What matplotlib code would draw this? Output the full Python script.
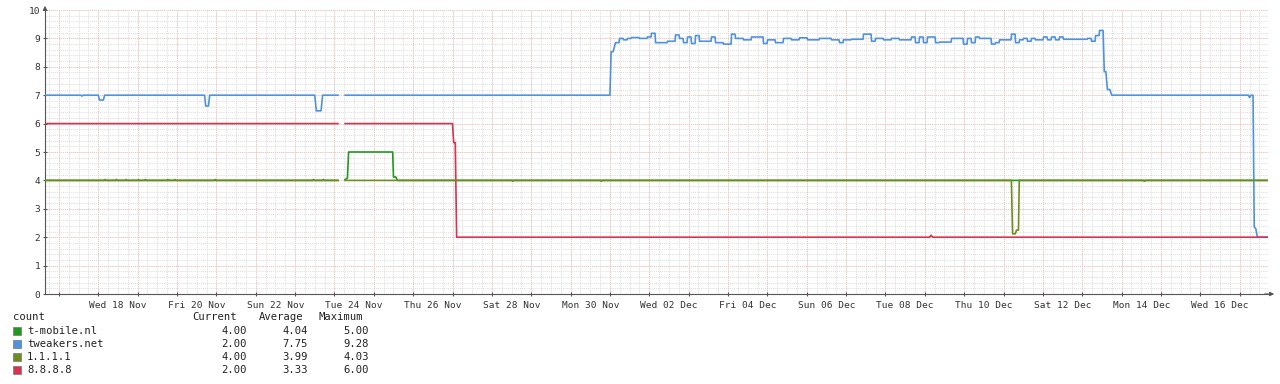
import numpy as np
import pandas as pd
import matplotlib
matplotlib.use("Agg")
import matplotlib.pyplot as plt
import matplotlib.dates as mdates
from matplotlib.patches import Rectangle

# ---------------- data ----------------
origin = pd.Timestamp("2020-11-18")
x_start_day, x_end_day = -1.354, 29.72

# tweakers.net (days from origin, values); NaN marks data gap
blue_t = [-1.354, -0.44, -0.414, -0.39, 0.0, 0.03, 0.06, 0.13, 0.16, 2.70, 2.73, 2.80, 2.83,
          5.50, 5.54, 5.66, 5.70, 6.09, 6.18, 6.27, 13.0, 13.03, 13.08]
blue_v = [7.0, 7.0, 6.97, 7.0, 7.0, 6.83, 6.83, 6.83, 7.0, 7.0, 6.62, 6.62, 7.0,
          7.0, 6.45, 6.45, 7.0, 7.0, np.nan, 7.0, 7.0, 8.53, 8.53]
blue_noise = [8.85, 9.0, 8.95, 9.0, 9.03, 9.03, 9.0, 9.0, 9.05, 9.18, 8.85, 8.85, 8.85, 8.9,
              8.9, 9.12, 9.0, 8.85, 9.05, 8.82, 9.1, 8.9, 8.9, 8.9, 9.05, 8.85, 8.85, 8.8,
              8.8, 9.15, 9.0, 9.0, 8.95, 8.95, 9.05, 9.05, 9.05, 8.82, 8.95, 8.95, 8.85,
              8.85, 9.0, 9.0, 8.95, 8.95, 9.02, 9.02, 8.95, 8.95, 8.95, 9.0, 9.0, 9.0, 8.95,
              8.95, 8.85, 8.95, 8.95, 8.97, 8.97, 8.97, 9.15, 9.15, 8.9, 9.0, 9.0, 8.95,
              8.95, 9.0, 9.0, 8.95, 8.95, 8.95, 9.05, 8.85, 9.05, 8.85, 9.05,
              9.05, 8.85, 8.87, 8.87, 8.87, 9.0, 9.0, 9.0, 8.8, 9.0, 8.85, 9.05, 9.0, 9.0,
              9.0, 8.8, 8.85, 8.95, 8.95, 8.95, 9.15, 8.85, 8.95, 9.0, 8.9, 9.0, 8.95,
              8.95, 9.05, 8.95, 9.05, 8.95, 9.05, 8.97, 8.97, 8.97, 8.97, 8.97, 8.97,
              9.0, 8.9, 9.1, 9.28]
blue_noise_span = (13.13, 25.53)
blue_tail_t = [25.56, 25.60, 25.64, 25.70, 25.75, 29.22, 29.25, 29.29, 29.34, 29.37, 29.41, 29.45, 29.72]
blue_tail_v = [7.83, 7.83, 7.2, 7.2, 7.0, 7.0, 6.92, 7.0, 7.0, 2.36, 2.3, 2.0, 2.0]

# 8.8.8.8
red_t = [-1.354, 6.09, 6.18, 6.27, 9.0, 9.03, 9.07, 9.105, 21.12, 21.16, 21.2, 29.72]
red_v = [6.0, 6.0, np.nan, 6.0, 6.0, 5.33, 5.33, 2.0, 2.0, 2.07, 2.0, 2.0]

# t-mobile.nl
green_t = [-1.354, 0.15, 0.17, 0.19, 0.44, 0.46, 0.48, 0.68, 0.70, 0.72, 1.0, 1.02, 1.04,
           1.18, 1.20, 1.22, 1.75, 1.77, 1.79, 1.93, 1.95, 1.97, 2.95, 2.97, 2.99,
           5.45, 5.47, 5.49, 5.70, 5.72, 5.74, 6.09, 6.18, 6.27, 6.33, 6.36, 6.40,
           7.48, 7.50, 7.56, 7.60, 29.72]
green_v = [4.0, 4.0, 4.03, 4.0, 4.0, 4.03, 4.0, 4.0, 4.03, 4.0, 4.0, 4.03, 4.0,
           4.0, 4.03, 4.0, 4.0, 4.03, 4.0, 4.0, 4.03, 4.0, 4.0, 4.03, 4.0,
           4.0, 4.03, 4.0, 4.0, 4.03, 4.0, 4.0, np.nan, 4.03, 4.08, 5.0, 5.0,
           5.0, 4.12, 4.12, 4.0, 4.0]

# 1.1.1.1
olive_t = [-1.354, 6.09, 6.18, 6.27, 10.5, 10.53, 10.56, 12.75, 12.78, 12.81, 23.20, 23.23,
           23.30, 23.33, 23.38, 23.40, 26.55, 26.58, 26.61, 29.72]
olive_v = [4.0, 4.0, np.nan, 4.0, 4.0, 3.97, 4.0, 4.0, 3.97, 4.0, 4.0, 2.12,
           2.12, 2.25, 2.25, 4.0, 4.0, 3.97, 4.0, 4.0]

series_names = ["t-mobile.nl", "tweakers.net", "1.1.1.1", "8.8.8.8"]
series_colors = ["#1f9a1f", "#4f93dc", "#6f8d1c", "#d8324f"]
cur_vals = ["4.00", "2.00", "4.00", "2.00"]
avg_vals = ["4.04", "7.75", "3.99", "3.33"]
max_vals = ["5.00", "9.28", "4.03", "6.00"]
label_days = list(range(0, 29, 2))  # Wed 18 Nov ... Wed 16 Dec

# ---------------- helpers ----------------
def to_dates(days):
    return mdates.date2num(origin) + np.asarray(days, dtype=float)

mono = "DejaVu Sans Mono"
W, H = 1280, 384
fig = plt.figure(figsize=(W / 100, H / 100), dpi=100)
fig.patch.set_facecolor("white")
left_px, right_px, top_px, bot_px = 45, 1268, 10, 294
ax = fig.add_axes([left_px / W, 1 - bot_px / H, (right_px - left_px) / W, (bot_px - top_px) / H])

x0, x1 = to_dates(x_start_day), to_dates(x_end_day)
ax.set_xlim(x0, x1)
ax.set_ylim(0, 10)

# grid
grid_minor = "#dedede"
grid_major = "#f2c4c4"
for yv in np.arange(0, 10.01, 0.2):
    ax.axhline(yv, color=grid_minor, lw=0.7, ls=(0, (1, 1)), zorder=0)
first_q = np.ceil(x_start_day * 4) / 4
for d in np.arange(first_q, x_end_day, 0.25):
    ax.axvline(to_dates(d), color=grid_minor, lw=0.7, ls=(0, (1, 1)), zorder=0)
for yv in range(0, 11):
    ax.axhline(yv, color=grid_major, lw=0.7, ls=(0, (1, 1)), zorder=0.5)
day_ticks = np.arange(np.ceil(x_start_day), x_end_day, 1)
for d in day_ticks:
    ax.axvline(to_dates(d), color=grid_major, lw=0.7, ls=(0, (1, 1)), zorder=0.5)

# series
lw = 1.2
ax.plot(to_dates(green_t), green_v, color=series_colors[0], lw=lw, zorder=3)

# noisy part of tweakers.net as steps with short ramps
noise_edges = np.linspace(blue_noise_span[0], blue_noise_span[1], len(blue_noise) + 1)
ramp = 0.012
nt, nv = [], []
for i, v in enumerate(blue_noise):
    nt += [noise_edges[i] + ramp, noise_edges[i + 1]]
    nv += [v, v]
bt = list(blue_t) + nt + blue_tail_t
bv = list(blue_v) + nv + blue_tail_v
ax.plot(to_dates(bt), bv, color=series_colors[1], lw=lw, zorder=3)
ax.plot(to_dates(olive_t), olive_v, color=series_colors[2], lw=lw, zorder=4)
ax.plot(to_dates(red_t), red_v, color=series_colors[3], lw=lw, zorder=3)

# axes styling
for s in ["top", "right"]:
    ax.spines[s].set_visible(False)
for s in ["left", "bottom"]:
    ax.spines[s].set_color("#555555")
    ax.spines[s].set_linewidth(0.8)
ax.set_yticks(range(0, 11))
ax.set_yticklabels([str(v) for v in range(0, 11)], fontfamily=mono, fontsize=6.8, color="#333333")
ax.tick_params(axis="y", length=3, direction="inout", color="#555555", pad=2)

ax.set_xticks(to_dates(day_ticks))
ax.set_xticklabels([""] * len(day_ticks))
ax.set_xticks(to_dates(np.array(label_days) + 0.5), minor=True)
ax.set_xticklabels([(origin + pd.Timedelta(days=d)).strftime("%a %d %b") for d in label_days],
                   minor=True, fontfamily=mono, fontsize=6.8, color="#333333")
ax.tick_params(axis="x", which="major", length=3, direction="inout", color="#555555")
ax.tick_params(axis="x", which="minor", length=0, pad=5)

# arrows
ax.annotate("", xy=(0, 1 + 7 / 284), xytext=(0, 0.99), xycoords="axes fraction",
            arrowprops=dict(arrowstyle="-|>", color="#555555", lw=0.8, mutation_scale=6),
            annotation_clip=False)
ax.annotate("", xy=(1 + 9 / 1223, 0), xytext=(0.995, 0), xycoords="axes fraction",
            arrowprops=dict(arrowstyle="-|>", color="#555555", lw=0.8, mutation_scale=6),
            annotation_clip=False)

# legend
fs = 7.6
def fy(py):
    return 1 - py / H
fig.text(13 / W, fy(317), "count", fontfamily=mono, fontsize=fs, va="center", color="#222222")
fig.text(237 / W, fy(317), "Current", fontfamily=mono, fontsize=fs, va="center", ha="right", color="#222222")
fig.text(303 / W, fy(317), "Average", fontfamily=mono, fontsize=fs, va="center", ha="right", color="#222222")
fig.text(363 / W, fy(317), "Maximum", fontfamily=mono, fontsize=fs, va="center", ha="right", color="#222222")
rows_py = [331, 344, 357, 370]
for i, name in enumerate(series_names):
    py = rows_py[i]
    fig.patches.append(Rectangle((13 / W, fy(py + 4)), 8 / W, 8 / H, transform=fig.transFigure,
                                 facecolor=series_colors[i], edgecolor="#777777", lw=0.5))
    fig.text(27 / W, fy(py), name, fontfamily=mono, fontsize=fs, va="center", color="#222222")
    fig.text(247 / W, fy(py), cur_vals[i], fontfamily=mono, fontsize=fs, va="center", ha="right", color="#222222")
    fig.text(308 / W, fy(py), avg_vals[i], fontfamily=mono, fontsize=fs, va="center", ha="right", color="#222222")
    fig.text(369 / W, fy(py), max_vals[i], fontfamily=mono, fontsize=fs, va="center", ha="right", color="#222222")

fig.savefig("out.png", dpi=100, facecolor="white")
